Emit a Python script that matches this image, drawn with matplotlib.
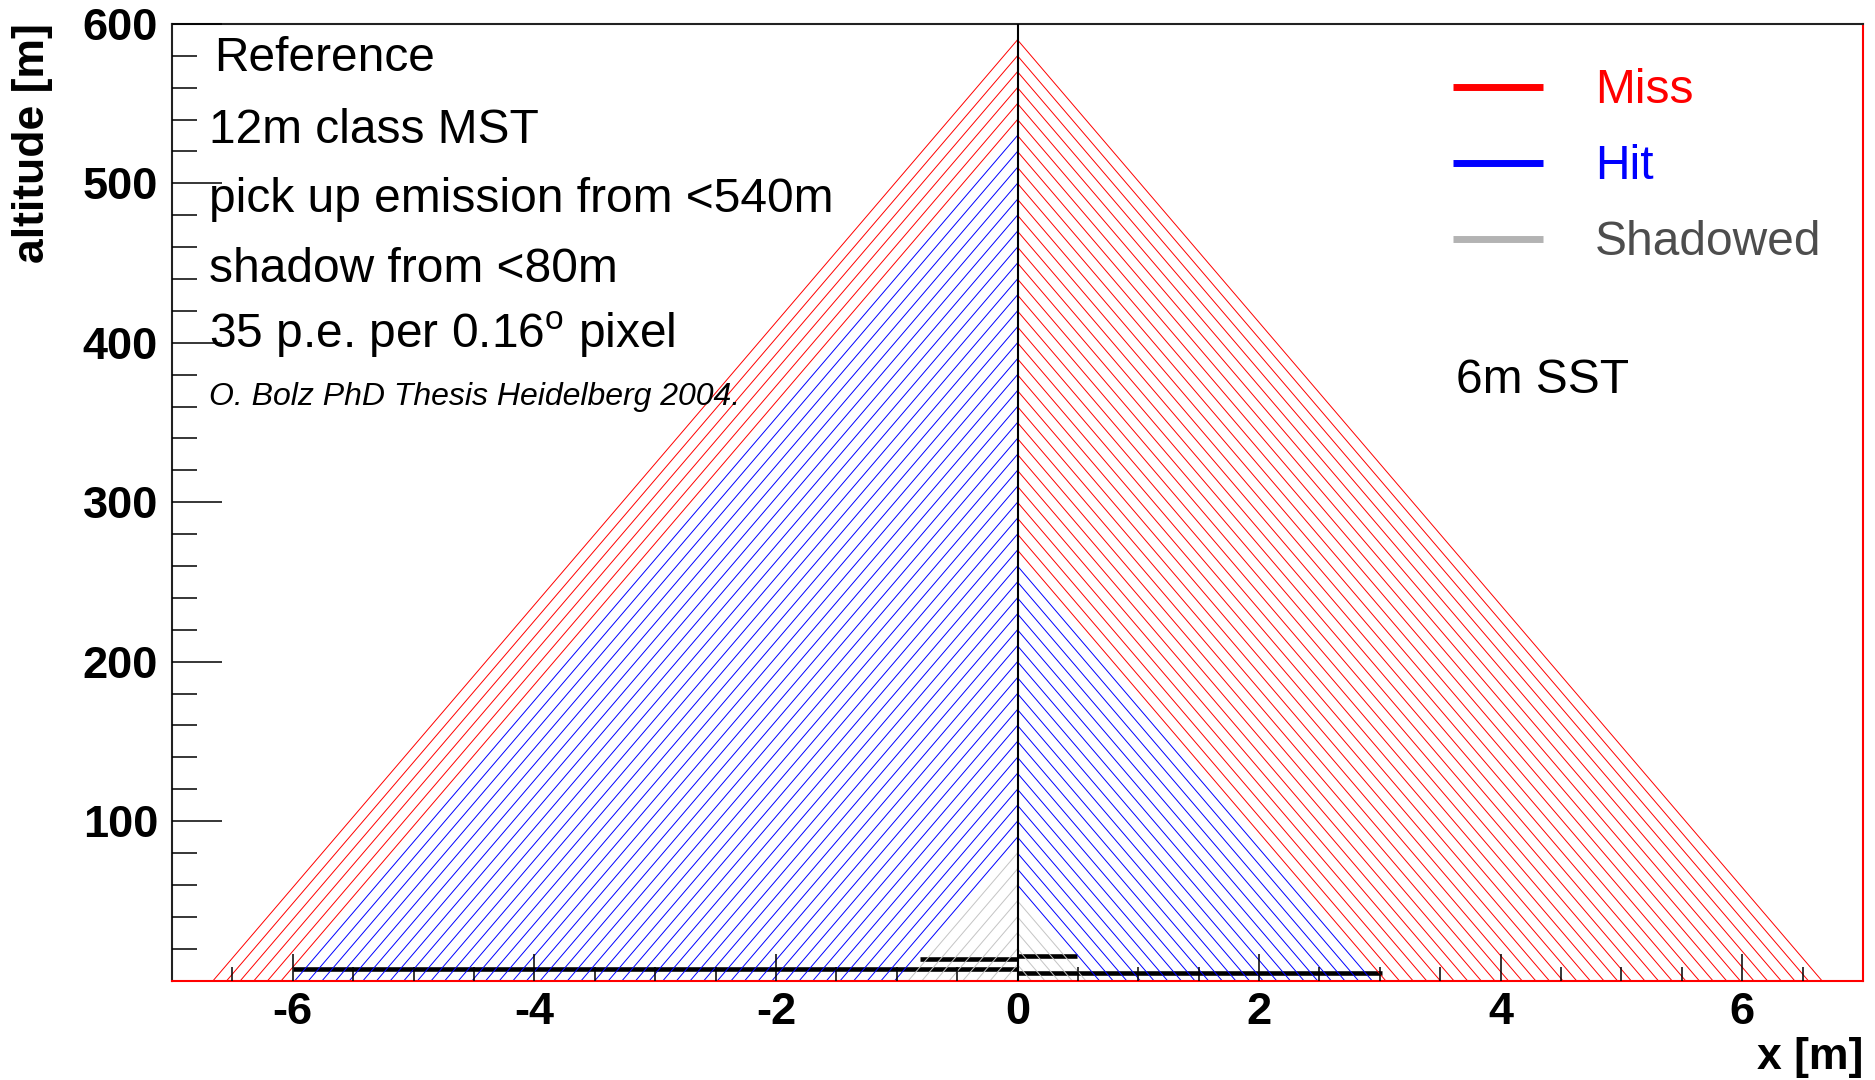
import numpy as np
import matplotlib.pyplot as plt

plt.rcParams['font.family'] = ['Liberation Sans', 'DejaVu Sans']
plt.rcParams['mathtext.fontset'] = 'custom'
plt.rcParams['mathtext.rm'] = 'Liberation Sans'
plt.rcParams['axes.unicode_minus'] = False

# ray altitudes on the optical axis [m], one ray every 10 m
ray_altitudes = [10, 20, 30, 40, 50, 60, 70, 80, 90, 100,
                 110, 120, 130, 140, 150, 160, 170, 180, 190, 200,
                 210, 220, 230, 240, 250, 260, 270, 280, 290, 300,
                 310, 320, 330, 340, 350, 360, 370, 380, 390, 400,
                 410, 420, 430, 440, 450, 460, 470, 480, 490, 500,
                 510, 520, 530, 540, 550, 560, 570, 580, 590]
ray_slope = 88.6          # m of altitude per m on the ground

# classification limits (highest altitude in each class)
left_shadow_top, left_hit_top = 80, 530     # 12m class MST
right_shadow_top, right_hit_top = 50, 260   # 6m SST

# mirror / camera segments: (x start, x end, altitude)
segments = [(-6.0, 0.0, 7.1), (-0.81, 0.0, 13.4),
            (0.0, 0.49, 15.4), (0.0, 3.02, 5.0)]

info_lines = ['Reference', '12m class MST', 'pick up emission from <540m',
              'shadow from <80m', r'35 p.e. per 0.16$^\mathrm{o}$ pixel']
info_note = 'O. Bolz PhD Thesis Heidelberg 2004.'
legend_labels = ['Miss', 'Hit', 'Shadowed']

red, blue, grey = '#ff0000', '#0000ff', '#c4c4c4'


def ray_color(h, shadow_top, hit_top):
    if h <= shadow_top:
        return grey
    if h <= hit_top:
        return blue
    return red


fig = plt.figure(figsize=(18.75, 10.8), dpi=100)
ax = fig.add_axes([172 / 1875, 99.4 / 1080, 1691 / 1875, 956.7 / 1080])

for x0, x1, y in segments:
    ax.plot([x0, x1], [y, y], color='black', lw=3.3, solid_capstyle='butt', zorder=1)

for h in ray_altitudes:
    xg = h / ray_slope
    ax.plot([-xg, 0], [0, h], color=ray_color(h, left_shadow_top, left_hit_top),
            lw=0.7, zorder=2)
    ax.plot([0, xg], [h, 0], color=ray_color(h, right_shadow_top, right_hit_top),
            lw=0.7, zorder=2)

ax.axvline(0, color='black', lw=1.5, zorder=3)

ax.set_xlim(-7, 7)
ax.set_ylim(0, 600)
ax.set_axisbelow(False)

ax.set_xticks([-6, -4, -2, 0, 2, 4, 6])
ax.set_xticks(np.arange(-6.5, 7, 0.5), minor=True)
ax.set_yticks([100, 200, 300, 400, 500, 600])
ax.set_yticks(np.arange(20, 600, 20), minor=True)
ax.tick_params(axis='x', which='major', direction='in', length=19.5, width=1.1,
               top=False, labelsize=32.5, pad=8)
ax.tick_params(axis='x', which='minor', direction='in', length=10, width=1.1, top=False)
ax.tick_params(axis='y', which='major', direction='in', length=36, width=1.1,
               right=False, labelsize=32.5, pad=10)
ax.tick_params(axis='y', which='minor', direction='in', length=18, width=1.1, right=False)
for lab in ax.get_xticklabels() + ax.get_yticklabels():
    lab.set_fontweight('bold')

for side in ['left', 'top']:
    ax.spines[side].set_color('#222222')
    ax.spines[side].set_linewidth(1.5)
for side in ['right', 'bottom']:
    ax.spines[side].set_color(red)
    ax.spines[side].set_linewidth(1.5)

fig.text(33 / 1875, 1 - 23 / 1080, 'altitude [m]', rotation=90, ha='center',
         va='top', fontsize=32, fontweight='bold')
fig.text(1863 / 1875, 1 - 1057 / 1080, 'x [m]', ha='right', va='center',
         fontsize=32, fontweight='bold')

# info text block
info_y = [0.9511, 0.8752, 0.8037, 0.7306, 0.6610]
info_x = [0.0248, 0.0219, 0.0219, 0.0219, 0.0219]
for s, x, y in zip(info_lines, info_x, info_y):
    ax.text(x, y, s, transform=ax.transAxes, fontsize=34.5, va='baseline')
ax.text(0.0219, 0.6017, info_note, transform=ax.transAxes, fontsize=23,
        style='italic', va='baseline')

# legend
leg_line_colors = [red, blue, '#b3b3b3']
leg_text_colors = [red, blue, '#4d4d4d']
leg_line_y = [0.9338, 0.8543, 0.7751]
leg_text_y = [0.917, 0.8376, 0.7584]
for lab, lc, tc, ly, ty in zip(legend_labels, leg_line_colors, leg_text_colors,
                               leg_line_y, leg_text_y):
    ax.plot([0.7576, 0.8108], [ly, ly], transform=ax.transAxes, color=lc,
            lw=5, solid_capstyle='butt', clip_on=False)
    ax.text(0.8415, ty, lab, transform=ax.transAxes, color=tc, fontsize=34.5,
            va='baseline')

ax.text(0.7593, 0.6138, '6m SST', transform=ax.transAxes, fontsize=34.5,
        va='baseline')

fig.savefig('out.png', dpi=100)
